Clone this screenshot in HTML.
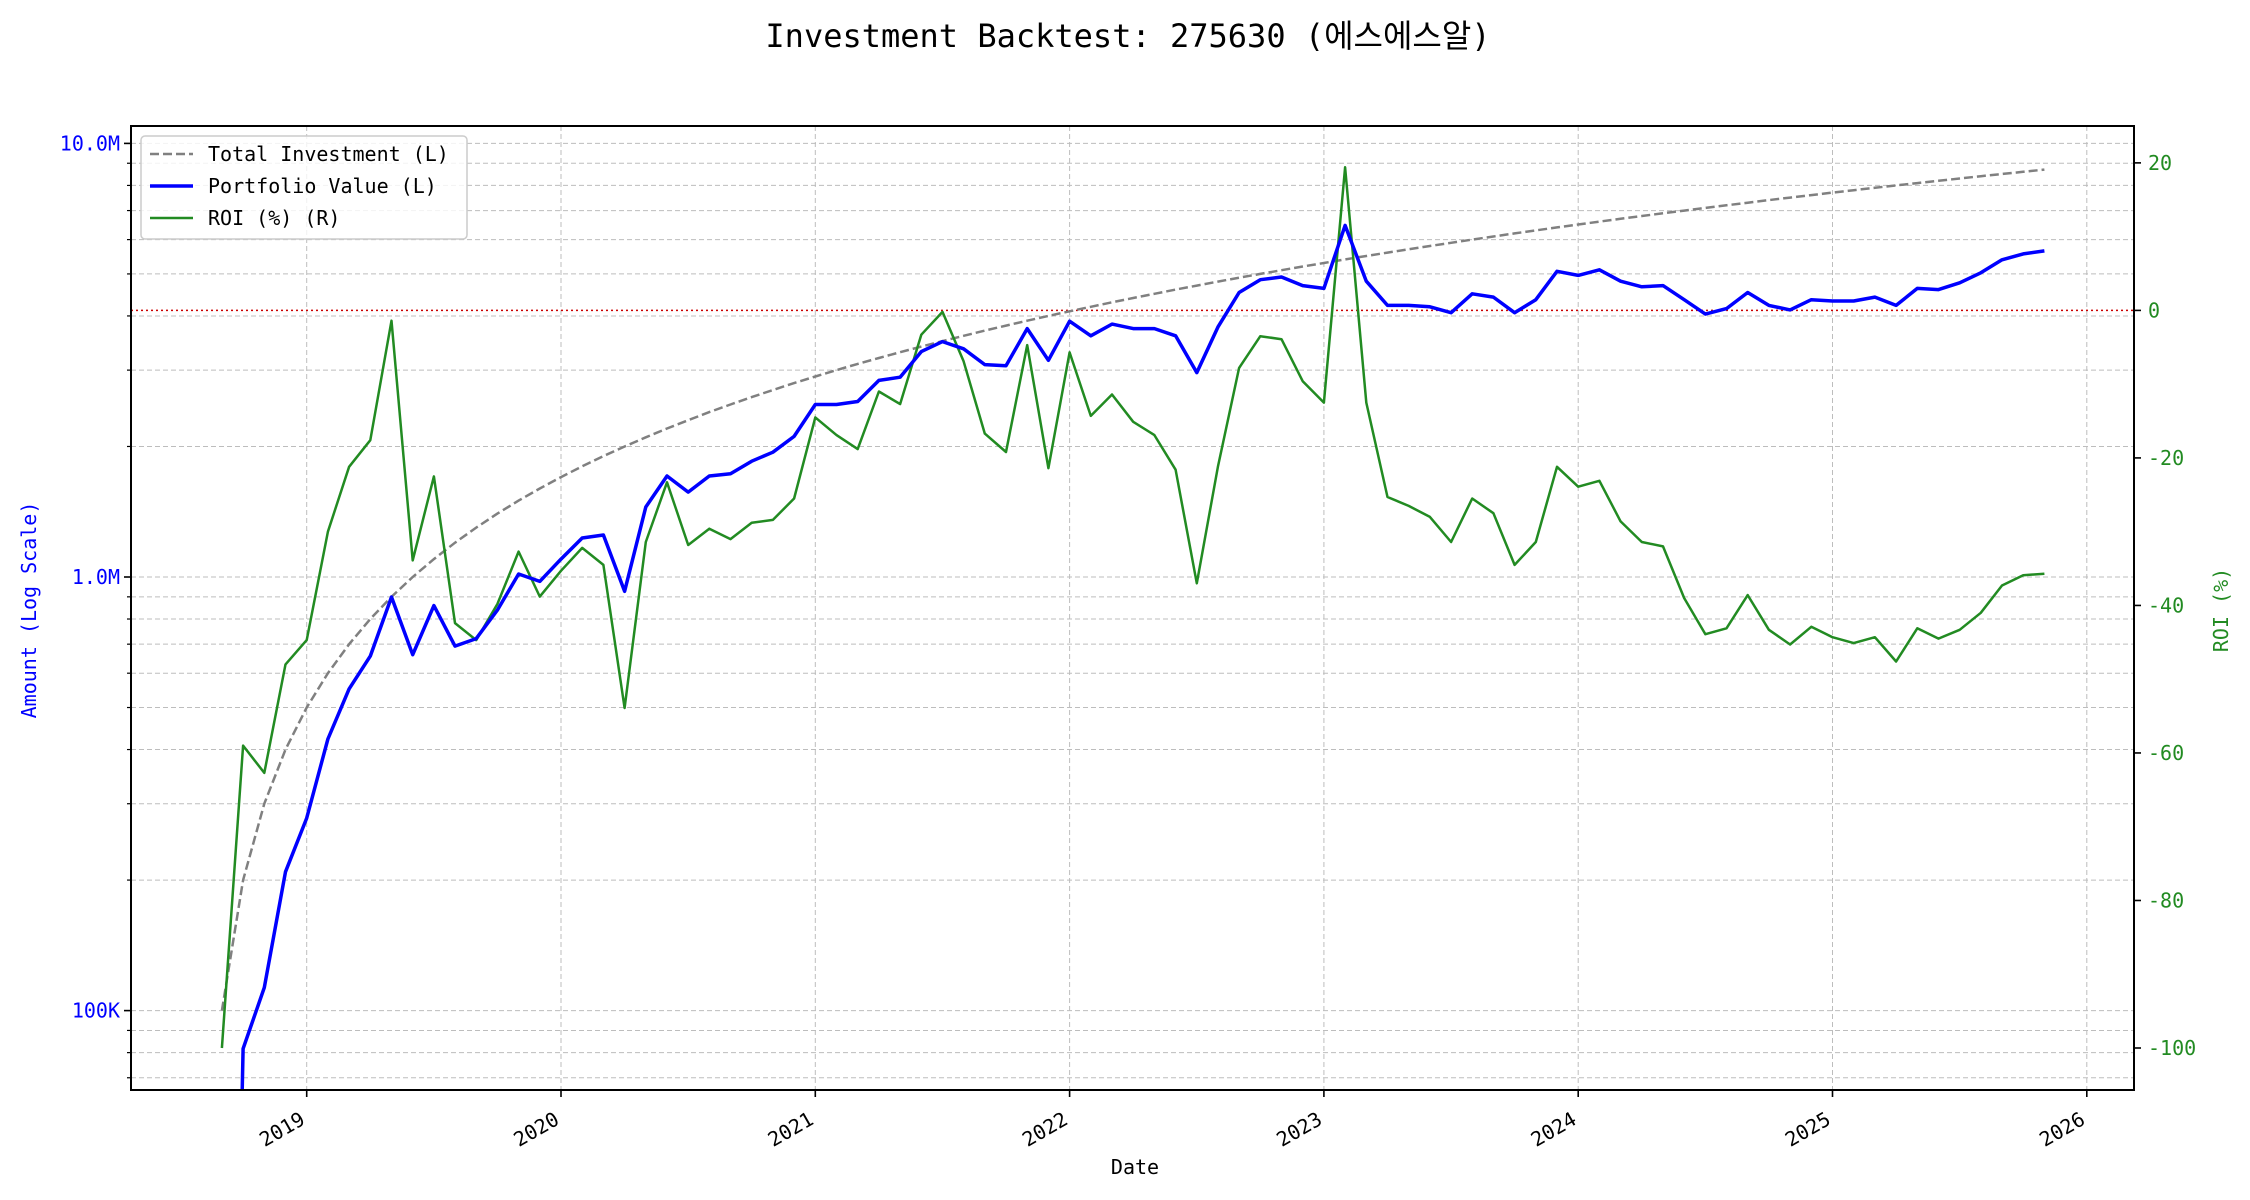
<!DOCTYPE html>
<html><head><meta charset="utf-8"><style>
html,body{margin:0;padding:0;background:#fff;width:2250px;height:1200px;overflow:hidden;}
svg{display:block;font-family:"DejaVu Sans Mono","Liberation Mono","Noto Sans CJK KR",monospace;}
</style></head><body>
<svg id="chart" width="2250" height="1200" viewBox="0 0 2250 1200" xmlns="http://www.w3.org/2000/svg">
<defs><clipPath id="plotclip"><rect x="131" y="126" width="2003" height="964"/></clipPath></defs>
<text x="1128" y="47" text-anchor="middle" font-size="32" fill="#000">Investment Backtest: 275630 (에스에스알)</text>
<g id="grid"></g>
<g id="series" clip-path="url(#plotclip)"></g>
<g id="axes"></g>
<text transform="translate(36,610) rotate(-90)" text-anchor="middle" font-size="20" fill="#0000ff">Amount (Log Scale)</text>
<text transform="translate(2228,610) rotate(-90)" text-anchor="middle" font-size="20" fill="#228b22">ROI (%)</text>
<text x="1135" y="1174" text-anchor="middle" font-size="20" fill="#000">Date</text>
<g>
<rect x="141" y="136" width="326" height="103" rx="4" fill="#fff" fill-opacity="0.8" stroke="#ccc" stroke-width="1.5"/>
<line x1="150" y1="154" x2="193" y2="154" stroke="#808080" stroke-width="2.5" stroke-dasharray="9,4"/>
<text x="208" y="161" font-size="20">Total Investment (L)</text>
<line x1="150" y1="186" x2="193" y2="186" stroke="#0000ff" stroke-width="3.5"/>
<text x="208" y="193" font-size="20">Portfolio Value (L)</text>
<line x1="150" y1="218" x2="193" y2="218" stroke="#228b22" stroke-width="2.5"/>
<text x="208" y="225" font-size="20">ROI (%) (R)</text>
</g>
</svg>
<script>
const startYear = 2018;
const startMonth = 9;
const totalInvestment = [0.1,0.2,0.3,0.4,0.5,0.6,0.7,0.8,0.9,1.0,1.1,1.2,1.3,1.4,1.5,1.6,1.7,1.8,1.9,2.0,2.1,2.2,2.3,2.4,2.5,2.6,2.7,2.8,2.9,3.0,3.1,3.2,3.3,3.4,3.5,3.6,3.7,3.8,3.9,4.0,4.1,4.2,4.3,4.4,4.5,4.6,4.7,4.8,4.9,5.0,5.1,5.2,5.3,5.4,5.5,5.6,5.7,5.8,5.9,6.0,6.1,6.2,6.3,6.4,6.5,6.6,6.7,6.8,6.9,7.0,7.1,7.2,7.3,7.4,7.5,7.6,7.7,7.8,7.9,8.0,8.1,8.2,8.3,8.4,8.5,8.6,8.7];
const portfolioValue = [0.0005,0.0817,0.113,0.209,0.278,0.423,0.552,0.657,0.899,0.662,0.859,0.693,0.721,0.839,1.016,0.977,1.10,1.23,1.25,0.927,1.45,1.71,1.57,1.71,1.73,1.85,1.94,2.11,2.50,2.50,2.54,2.84,2.89,3.31,3.49,3.36,3.09,3.07,3.74,3.16,3.89,3.60,3.83,3.74,3.74,3.60,2.96,3.77,4.53,4.85,4.92,4.70,4.63,6.47,4.81,4.23,4.23,4.20,4.07,4.50,4.42,4.07,4.36,5.07,4.96,5.11,4.81,4.67,4.70,4.36,4.04,4.16,4.53,4.23,4.13,4.36,4.33,4.33,4.42,4.23,4.63,4.60,4.77,5.03,5.39,5.56,5.65];
const roiPercent = [-100,-59,-62.7,-48,-44.7,-30,-21.2,-17.6,-1.4,-33.9,-22.5,-42.4,-44.7,-39.8,-32.7,-38.8,-35.3,-32.2,-34.5,-53.9,-31.4,-23.3,-31.8,-29.6,-31,-28.8,-28.4,-25.5,-14.5,-16.9,-18.8,-11,-12.7,-3.3,-0.2,-6.9,-16.7,-19.2,-4.7,-21.4,-5.7,-14.3,-11.4,-15.1,-16.9,-21.6,-37,-21.2,-7.8,-3.5,-3.9,-9.6,-12.5,19.4,-12.5,-25.3,-26.5,-28,-31.4,-25.5,-27.5,-34.5,-31.4,-21.2,-23.9,-23.1,-28.6,-31.4,-32,-39,-43.9,-43.1,-38.6,-43.3,-45.3,-42.9,-44.3,-45.1,-44.3,-47.6,-43.1,-44.5,-43.3,-41,-37.3,-35.9,-35.7];
const yearTicks = [2019,2020,2021,2022,2023,2024,2025,2026];
const leftTickValues = [0.1,1,10];
const leftTickLabels = ["100K","1.0M","10.0M"];
const rightTickValues = [20,0,-20,-40,-60,-80,-100];

const L=131,R=2134,T=126,B=1090;
const NS="http://www.w3.org/2000/svg";
function xScale(t){return 306.7+(t-2019)*254.3;}
function yLeft(vM){return 577-433.6*Math.log10(vM);}
function yRight(p){return 310.4-7.376*p;}
function tOf(i){return startYear+(startMonth-1+i)/12;}
function mk(tag,attrs,parent){const e=document.createElementNS(NS,tag);for(const k in attrs)e.setAttribute(k,attrs[k]);parent.appendChild(e);return e;}
const grid=document.getElementById('grid'),axes=document.getElementById('axes'),series=document.getElementById('series');
const gstyle={stroke:"#bdbdbd","stroke-width":1,"stroke-dasharray":"5,3"};
yearTicks.forEach(y=>{
  const x=xScale(y);
  const g=mk('line',Object.assign({x1:x,x2:x,y1:T,y2:B},gstyle),grid);
  
  
  const tk=mk('line',{x1:x,x2:x,y1:B,y2:B+7,stroke:"#000","stroke-width":1.6},axes);
  
  
  const lb=mk('text',{transform:`translate(${x-8},${B+20}) rotate(-30)`,"text-anchor":"end","dominant-baseline":"hanging","font-size":20},axes);
  lb.textContent=String(y);
  
  
});
for(let dec=0.01;dec<=10;dec*=10){
  for(let m=1;m<=9;m++){
    const v=dec*m; const y=yLeft(v);
    if(y<T||y>B) continue;
    const g=mk('line',Object.assign({x1:L,x2:R,y1:y,y2:y},gstyle),grid);
    
    
    const tk=mk('line',{x1:L-(m===1?7:4),x2:L,y1:y,y2:y,stroke:"#000","stroke-width":m===1?1.6:1.2},axes);
    
    
  }
}
leftTickValues.forEach((v,i)=>{
  const lb=mk('text',{x:L-11,y:yLeft(v)+7,"text-anchor":"end","font-size":20,fill:"#0000ff"},axes);
  lb.textContent=leftTickLabels[i];
  
  
});
rightTickValues.forEach(p=>{
  const y=yRight(p);
  const tk=mk('line',{x1:R,x2:R+7,y1:y,y2:y,stroke:"#000","stroke-width":1.6},axes);
  
  
  const lb=mk('text',{x:R+14,y:y+7,"font-size":20,fill:"#228b22"},axes);
  lb.textContent=String(p);
  
  
});
const z=mk('line',{x1:L,x2:R,y1:yRight(0),y2:yRight(0),stroke:"#cc0000","stroke-width":1.5,"stroke-dasharray":"2,3"},series);


function path(arr,yf){
  const pts=arr.map((v,i)=>[xScale(tOf(i)),yf(v)]);
  const lim=B+10;
  const out=[];
  for(let i=0;i<pts.length;i++){
    let [x,y]=pts[i];
    if(y>lim){
      const nb=(i+1<pts.length)?pts[i+1]:(i>0?pts[i-1]:null);
      if(nb&&nb[1]<lim){const f=(y-lim)/(y-nb[1]);x=x+(nb[0]-x)*f;}
      y=lim;
    }
    out.push((out.length?'L':'M')+x.toFixed(1)+','+y.toFixed(1));
  }
  return out.join(' ');
}
const p1=mk('path',{d:path(totalInvestment,yLeft),fill:"none",stroke:"#808080","stroke-width":2.5,"stroke-dasharray":"9,4"},series);


const p3=mk('path',{d:path(roiPercent,yRight),fill:"none",stroke:"#228b22","stroke-width":2.5,"stroke-linejoin":"round"},series);


const p2=mk('path',{d:path(portfolioValue,yLeft),fill:"none",stroke:"#0000ff","stroke-width":3.5,"stroke-linejoin":"round"},series);


const fr=mk('rect',{x:L,y:T,width:R-L,height:B-T,fill:"none",stroke:"#000","stroke-width":2},axes);


</script>
</body></html>
